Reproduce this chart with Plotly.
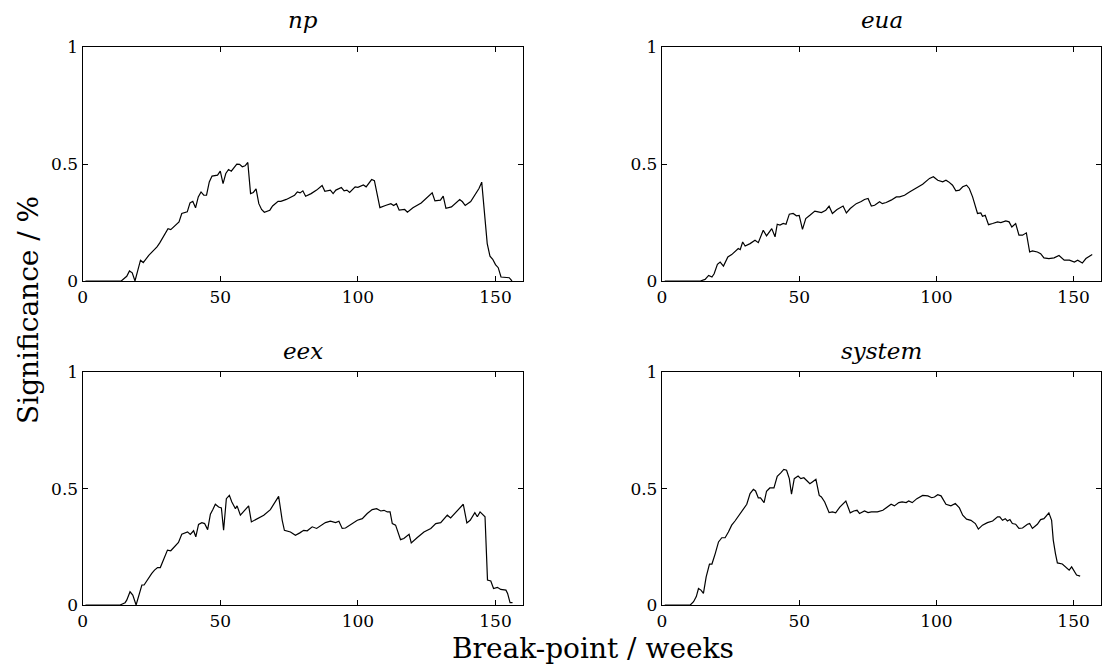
import plotly.graph_objects as go

# ---------------- data ----------------
weeks_np = [1, 14, 16, 17, 18, 19, 21, 22, 24, 27, 28, 31, 32, 35, 36, 38, 39, 40, 41, 42, 43, 44, 45, 46, 47, 49,
            50, 51, 52, 53, 54, 56, 57, 58, 59, 60, 61, 62, 63, 64, 65, 66, 68, 69, 71, 72, 74, 75, 77, 78, 79, 80,
            81, 83, 84, 85, 87, 88, 90, 91, 92, 94, 95, 96, 97, 99, 100, 102, 103, 104, 105, 106, 108, 110, 112,
            113, 114, 115, 117, 118, 120, 123, 125, 127, 128, 130, 131, 132, 134, 136, 137, 138, 139, 141, 143,
            144, 145, 146, 147, 148, 149, 150, 151, 152, 154, 155, 156]
sig_np = [0, 0, 0.02, 0.043, 0.035, 0.0, 0.089, 0.079, 0.11, 0.146, 0.163, 0.224, 0.22, 0.253, 0.289, 0.296, 0.334,
          0.341, 0.313, 0.36, 0.381, 0.367, 0.367, 0.424, 0.449, 0.453, 0.47, 0.417, 0.46, 0.477, 0.47, 0.5, 0.499,
          0.489, 0.493, 0.507, 0.374, 0.379, 0.394, 0.331, 0.306, 0.294, 0.303, 0.321, 0.341, 0.341, 0.349, 0.356,
          0.367, 0.381, 0.377, 0.386, 0.363, 0.374, 0.38, 0.389, 0.409, 0.384, 0.389, 0.374, 0.389, 0.4, 0.386,
          0.389, 0.379, 0.403, 0.401, 0.411, 0.403, 0.421, 0.434, 0.429, 0.314, 0.323, 0.331, 0.323, 0.331, 0.303,
          0.306, 0.294, 0.313, 0.334, 0.356, 0.377, 0.343, 0.346, 0.363, 0.311, 0.317, 0.339, 0.349, 0.339, 0.323,
          0.34, 0.374, 0.396, 0.423, 0.289, 0.16, 0.106, 0.093, 0.07, 0.057, 0.017, 0.017, 0.014, 0.0]

weeks_eua = [1, 14, 15.7, 17, 18.2, 19, 20.2, 21.2, 22.4, 24, 25.4, 26.6, 27.8, 28.5, 29.4, 30.3, 32.1, 33.9, 35.1,
             36.9, 38.1, 40, 41.2, 42, 43, 44.2, 45.2, 46.4, 47.8, 49, 50, 51.2, 52.4, 53.9, 55.7, 56.9, 58.1, 59.7,
             60.9, 62.1, 63.8, 66, 67.2, 68.6, 70.8, 72.6, 73.8, 75.1, 76.3, 77.5, 79.3, 80.3, 81.7, 83.5, 85.4,
             86.6, 88.4, 90.2, 92.6, 95, 97.5, 98.9, 100.5, 102.3, 103.5, 104.5, 105.9, 107.1, 108.4, 109.6, 111,
             112, 113.2, 115, 116.2, 116.8, 117.8, 119, 120.5, 122.3, 123.5, 125.3, 126.5, 127.5, 128.9, 130.1,
             131.4, 132.8, 134, 135, 136.8, 138, 139.2, 141, 142.9, 144.7, 146.6, 148.5, 150.3, 151.5, 153.2,
             154.5, 156.8]
sig_eua = [0, 0, 0.007, 0.024, 0.017, 0.031, 0.071, 0.081, 0.064, 0.103, 0.113, 0.124, 0.139, 0.134, 0.167, 0.15,
           0.16, 0.174, 0.164, 0.217, 0.193, 0.224, 0.189, 0.243, 0.239, 0.246, 0.243, 0.286, 0.289, 0.279, 0.281,
           0.221, 0.267, 0.281, 0.299, 0.296, 0.293, 0.303, 0.32, 0.289, 0.306, 0.321, 0.291, 0.31, 0.331, 0.34,
           0.349, 0.353, 0.321, 0.324, 0.339, 0.331, 0.336, 0.346, 0.36, 0.36, 0.367, 0.381, 0.396, 0.414, 0.439,
           0.446, 0.431, 0.424, 0.431, 0.424, 0.41, 0.386, 0.389, 0.403, 0.41, 0.396, 0.36, 0.289, 0.291, 0.277,
           0.281, 0.241, 0.246, 0.253, 0.25, 0.257, 0.253, 0.231, 0.246, 0.196, 0.196, 0.206, 0.124, 0.129, 0.124,
           0.117, 0.099, 0.096, 0.099, 0.109, 0.089, 0.089, 0.081, 0.089, 0.077, 0.096, 0.113]

weeks_eex = [1, 13.6, 15.4, 16, 17.2, 18.2, 19.4, 20.6, 21.5, 22.3, 23.9, 25.1, 26.1, 27.2, 28.2, 29.4, 30.8, 32,
             33.6, 34.8, 36, 36.9, 38.1, 39.1, 40.3, 41.1, 42.1, 43.3, 44.3, 45.4, 46.4, 47.3, 48.2, 49.4, 50.4,
             51.2, 52.2, 53.3, 54.2, 55.5, 56.1, 57.3, 58.5, 60.3, 61.3, 63.3, 65.8, 68.2, 71.2, 72.5, 73.3, 75.5,
             77.3, 78.9, 80.3, 81.6, 83.4, 85, 86.4, 88.2, 90, 91.9, 93.1, 94.3, 95.5, 97.3, 99.8, 101.6, 103.4,
             105.2, 106.8, 108.3, 109.5, 110.7, 111.7, 112.5, 113.7, 115.5, 116.7, 118.6, 119.4, 121.6, 124, 126.5,
             128.3, 130.1, 132.5, 133.7, 136.2, 138.3, 139.6, 140.8, 142.5, 143.4, 144.4, 145.6, 146.2, 147.1,
             148.3, 149.3, 150.7, 151.9, 153.8, 154.4, 155.3, 156.2]
sig_eex = [0, 0, 0.01, 0.021, 0.057, 0.043, 0.0, 0.05, 0.086, 0.086, 0.117, 0.136, 0.15, 0.161, 0.161, 0.2, 0.236,
           0.233, 0.253, 0.269, 0.304, 0.307, 0.314, 0.303, 0.319, 0.293, 0.346, 0.354, 0.35, 0.324, 0.39, 0.41,
           0.433, 0.421, 0.417, 0.321, 0.457, 0.471, 0.443, 0.414, 0.426, 0.386, 0.404, 0.426, 0.357, 0.369, 0.386,
           0.41, 0.467, 0.364, 0.321, 0.314, 0.3, 0.31, 0.321, 0.319, 0.336, 0.329, 0.339, 0.354, 0.36, 0.354,
           0.36, 0.329, 0.331, 0.346, 0.364, 0.371, 0.393, 0.41, 0.414, 0.404, 0.407, 0.4, 0.4, 0.35, 0.343, 0.281,
           0.286, 0.304, 0.267, 0.29, 0.314, 0.329, 0.35, 0.354, 0.386, 0.374, 0.407, 0.433, 0.353, 0.364, 0.397,
           0.379, 0.4, 0.386, 0.379, 0.107, 0.103, 0.071, 0.076, 0.067, 0.064, 0.05, 0.01, 0.01]

weeks_sys = [1, 10.3, 11.5, 12.5, 13.3, 14.2, 15.1, 16.1, 17.3, 18.2, 19.4, 20.6, 21.8, 23, 24.2, 25.4, 26.6, 28.2,
             29.7, 30.9, 32.1, 33.3, 34.1, 35.1, 35.9, 37.2, 38.1, 39.3, 40.8, 42, 43.2, 44.4, 45.4, 46.4, 47.2,
             48.2, 49.6, 50.6, 51.7, 52.7, 53.9, 54.8, 56.1, 57.3, 58.1, 59.3, 60.9, 62.1, 63.3, 64.8, 67, 68.6,
             69.9, 71.1, 72, 73.8, 75.1, 76.3, 78.5, 80.5, 82.3, 83.5, 84.7, 86.3, 87.5, 89, 89.9, 91.2, 92.9, 95,
             96.9, 98.3, 99.3, 100.5, 101.7, 103.5, 105.3, 106.9, 108.4, 109.6, 111, 112.6, 114.2, 115.3, 116.8,
             118.6, 120.5, 122.3, 123.1, 124.1, 125.1, 125.9, 126.8, 127.7, 128.9, 130.1, 131.4, 133.2, 134, 135,
             136.8, 138, 139.2, 141, 142, 142.6, 143.4, 144.1, 145.9, 147.2, 148.4, 149.3, 150.2, 151.1, 152.4]
sig_sys = [0, 0, 0.014, 0.036, 0.071, 0.064, 0.05, 0.121, 0.176, 0.176, 0.221, 0.271, 0.289, 0.289, 0.314, 0.343,
           0.361, 0.386, 0.414, 0.433, 0.479, 0.497, 0.49, 0.46, 0.46, 0.44, 0.489, 0.503, 0.503, 0.553, 0.567,
           0.583, 0.579, 0.543, 0.476, 0.543, 0.554, 0.543, 0.547, 0.536, 0.521, 0.529, 0.54, 0.471, 0.464, 0.443,
           0.397, 0.4, 0.396, 0.421, 0.447, 0.396, 0.404, 0.407, 0.393, 0.404, 0.397, 0.4, 0.4, 0.407, 0.421,
           0.433, 0.426, 0.44, 0.443, 0.44, 0.447, 0.44, 0.457, 0.471, 0.469, 0.461, 0.464, 0.474, 0.469, 0.433,
           0.426, 0.436, 0.417, 0.386, 0.369, 0.364, 0.35, 0.326, 0.343, 0.354, 0.361, 0.379, 0.379, 0.364, 0.371,
           0.361, 0.367, 0.35, 0.347, 0.329, 0.331, 0.347, 0.35, 0.329, 0.347, 0.367, 0.371, 0.396, 0.364, 0.279,
           0.221, 0.181, 0.176, 0.161, 0.15, 0.164, 0.143, 0.129, 0.124]

titles = ["np", "eua", "eex", "system"]
x_ticks = [0, 50, 100, 150]
y_ticks = [0, 0.5, 1]
y_tick_text = ["0", "0.5", "1"]

# ---------------- layout geometry ----------------
W, H = 1103, 669
FONT = "DejaVu Serif"

def px_x(p):
    return p / W

def px_y(p):
    return 1 - p / H

col_dom = [(px_x(82.7), px_x(523)), (px_x(662), px_x(1101))]
row_dom = [(px_y(281), px_y(47.3)), (px_y(605), px_y(372.3))]

series = [(weeks_np, sig_np), (weeks_eua, sig_eua), (weeks_eex, sig_eex), (weeks_sys, sig_sys)]

fig = go.Figure()
layout = {}
annotations = []
for i, (xs, ys) in enumerate(series):
    r, c = divmod(i, 2)
    idx = "" if i == 0 else str(i + 1)
    fig.add_trace(go.Scatter(x=xs, y=ys, mode="lines",
                             line=dict(color="black", width=1.2),
                             xaxis="x" + idx, yaxis="y" + idx, showlegend=False,
                             hoverinfo="skip"))
    common = dict(showline=True, linecolor="black", linewidth=1.3, mirror="ticks",
                  ticks="inside", ticklen=5, tickwidth=1, tickcolor="black",
                  showgrid=False, zeroline=False, automargin=False,
                  tickfont=dict(family=FONT, size=17, color="black"))
    layout["xaxis" + idx] = dict(domain=list(col_dom[c]), range=[0, 160], tickvals=x_ticks,
                                 anchor="y" + idx, **common)
    layout["yaxis" + idx] = dict(domain=list(row_dom[r]), range=[0, 1], tickvals=y_ticks,
                                 ticktext=y_tick_text, anchor="x" + idx, **common)
    ty = px_y(20) if r == 0 else px_y(351)
    annotations.append(dict(text="<i>" + titles[i] + "</i>", x=(col_dom[c][0] + col_dom[c][1]) / 2,
                            y=ty, xref="paper", yref="paper", xanchor="center", yanchor="middle",
                            showarrow=False, font=dict(family=FONT, size=23, color="black")))

annotations.append(dict(text="Break-point / weeks", x=px_x(593), y=px_y(648), xref="paper", yref="paper",
                        xanchor="center", yanchor="middle", showarrow=False,
                        font=dict(family=FONT, size=28, color="black")))
annotations.append(dict(text="Significance / %", x=px_x(28), y=px_y(310), xref="paper", yref="paper",
                        xanchor="center", yanchor="middle", textangle=-90, showarrow=False,
                        font=dict(family=FONT, size=28, color="black")))

fig.update_layout(**layout)
fig.update_layout(width=W, height=H, margin=dict(l=0, r=0, t=0, b=0, autoexpand=False),
                  template="none", paper_bgcolor="white", plot_bgcolor="white",
                  annotations=annotations, showlegend=False)

fig.write_html("out.html")
